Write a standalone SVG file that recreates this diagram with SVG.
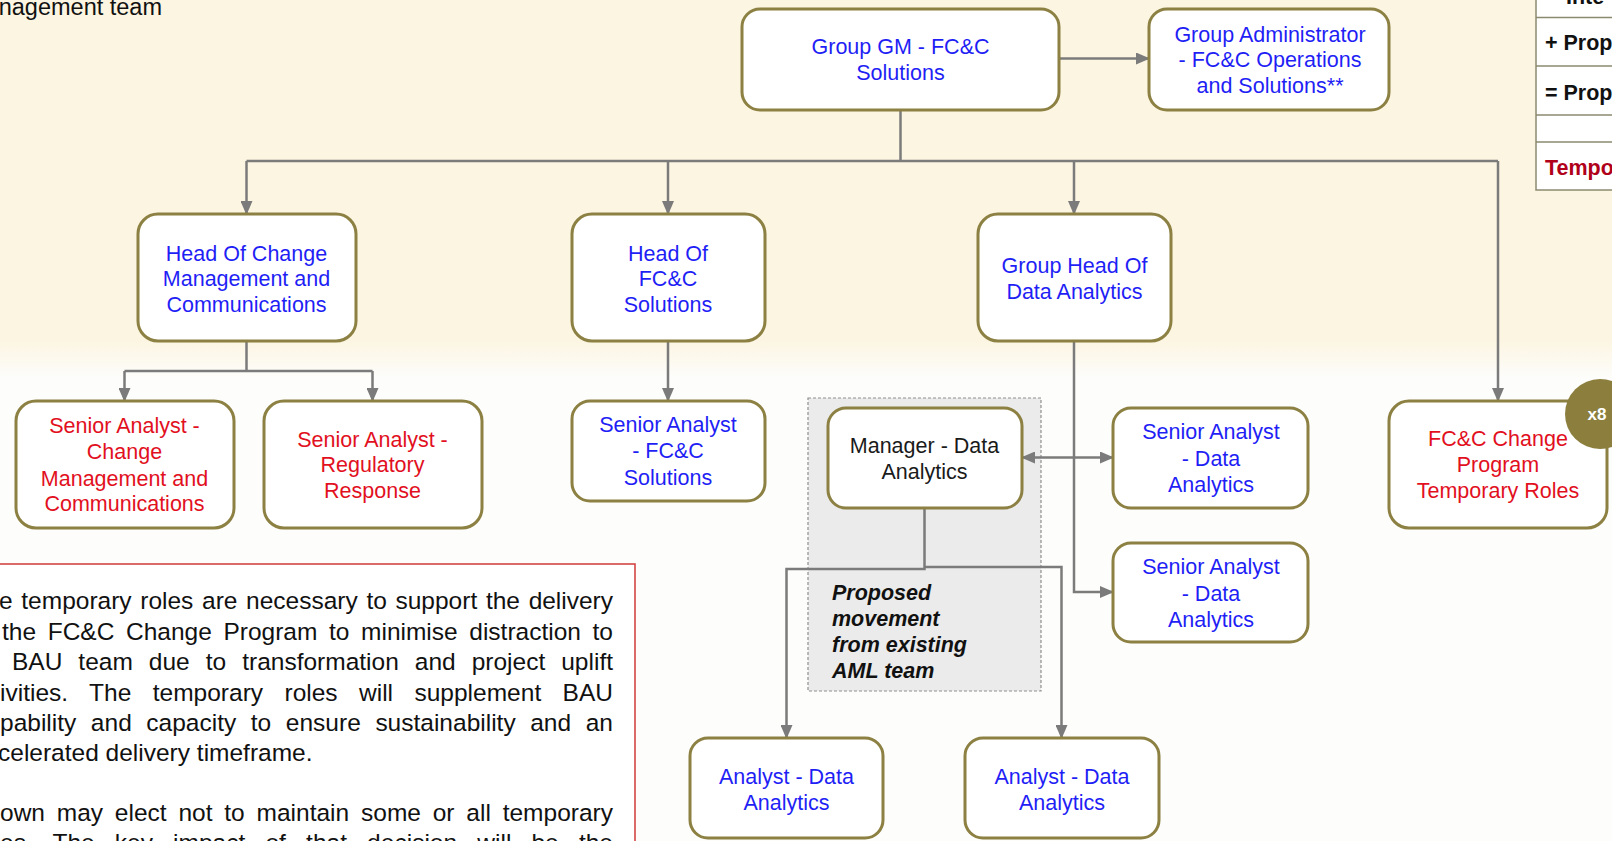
<svg xmlns="http://www.w3.org/2000/svg" width="1612" height="841" viewBox="0 0 1612 841">
<style>
text{font-family:"Liberation Sans",Arial,sans-serif}
.box{fill:#ffffff;stroke:#8c8042;stroke-width:3}
.n{font-size:21.5px;text-anchor:middle}
.blue{fill:#1f1ff5}
.red{fill:#e2101e}
.blk{fill:#1a1a1a}
.con{fill:none;stroke:#7b7b7b;stroke-width:2.5}
.para{font-size:24.5px;fill:#111}
.leg{font-size:21.5px;font-weight:bold;fill:#111}
</style>
<defs>
<linearGradient id="bg" x1="0" y1="0" x2="0" y2="1">
<stop offset="0" stop-color="#fcf5e2"/>
<stop offset="0.9" stop-color="#fcf5e2"/>
<stop offset="1" stop-color="#fdfdfb"/>
</linearGradient>
<marker id="ah" markerUnits="userSpaceOnUse" markerWidth="14" markerHeight="12" refX="13" refY="6" orient="auto-start-reverse">
<path d="M0,0 L14,6 L0,12 Z" fill="#7b7b7b"/>
</marker>
</defs>
<rect x="0" y="0" width="1612" height="841" fill="#fdfdfb"/>
<rect x="0" y="0" width="1612" height="378" fill="url(#bg)"/>

<text x="162" y="15" font-size="23.5" fill="#111" text-anchor="end">nagement team</text>

<g id="legend">
<rect x="1536" y="-5" width="90" height="195" fill="#ffffff" stroke="#8a8a70" stroke-width="1.5"/>
<line x1="1536" y1="17.5" x2="1612" y2="17.5" stroke="#8a8a70" stroke-width="1.5"/>
<line x1="1536" y1="66" x2="1612" y2="66" stroke="#8a8a70" stroke-width="1.5"/>
<line x1="1536" y1="115" x2="1612" y2="115" stroke="#8a8a70" stroke-width="1.5"/>
<line x1="1536" y1="142" x2="1612" y2="142" stroke="#8a8a70" stroke-width="1.5"/>
<text class="leg" x="1566" y="4">Inte</text>
<text class="leg" x="1545" y="50">+ Prop</text>
<text class="leg" x="1545" y="100">= Prop</text>
<text class="leg" x="1545" y="175" style="fill:#b0001a">Tempo</text>
</g>

<g id="aml-area">
<rect x="808" y="398" width="233" height="293" fill="#ebebeb" stroke="#8f8f8f" stroke-width="1.2" stroke-dasharray="3 2"/>
<text x="832" y="600" font-size="21.5" font-weight="bold" font-style="italic" fill="#111">Proposed</text>
<text x="832" y="626" font-size="21.5" font-weight="bold" font-style="italic" fill="#111">movement</text>
<text x="832" y="652" font-size="21.5" font-weight="bold" font-style="italic" fill="#111">from existing</text>
<text x="832" y="677.5" font-size="21.5" font-weight="bold" font-style="italic" fill="#111">AML team</text>
</g>

<g id="connectors">
<line class="con" x1="1059" y1="58.5" x2="1149" y2="58.5" marker-end="url(#ah)"/>
<polyline class="con" points="900.5,110 900.5,161"/>
<line class="con" x1="246.5" y1="161" x2="1498" y2="161"/>
<line class="con" x1="246.5" y1="161" x2="246.5" y2="214" marker-end="url(#ah)"/>
<line class="con" x1="668" y1="161" x2="668" y2="214" marker-end="url(#ah)"/>
<line class="con" x1="1074" y1="161" x2="1074" y2="214" marker-end="url(#ah)"/>
<polyline class="con" points="1498,161 1498,401" marker-end="url(#ah)"/>
<polyline class="con" points="246.5,341 246.5,371"/>
<line class="con" x1="124.5" y1="371" x2="372.5" y2="371"/>
<line class="con" x1="124.5" y1="371" x2="124.5" y2="401" marker-end="url(#ah)"/>
<line class="con" x1="372.5" y1="371" x2="372.5" y2="401" marker-end="url(#ah)"/>
<line class="con" x1="668" y1="341" x2="668" y2="401" marker-end="url(#ah)"/>
<polyline class="con" points="1074,341 1074,592 1113,592" marker-end="url(#ah)"/>
<line class="con" x1="1022" y1="457.5" x2="1113" y2="457.5" marker-start="url(#ah)" marker-end="url(#ah)"/>
<polyline class="con" points="924.5,508 924.5,569 786.5,569 786.5,738" marker-end="url(#ah)"/>
<polyline class="con" points="924.5,567 1061.5,567 1061.5,738" marker-end="url(#ah)"/>
</g>

<g id="group-gm">
<rect class="box" x="742" y="9" width="317" height="101" rx="18"/>
<text class="n blue" x="900.5" y="54">Group GM - FC&amp;C</text>
<text class="n blue" x="900.5" y="79.5">Solutions</text>
</g>

<g id="group-admin">
<rect class="box" x="1149" y="9" width="240" height="101" rx="18"/>
<text class="n blue" x="1270" y="41.5">Group Administrator</text>
<text class="n blue" x="1270" y="67">- FC&amp;C Operations</text>
<text class="n blue" x="1270" y="93">and Solutions**</text>
</g>

<g id="head-change">
<rect class="box" x="138" y="214" width="218" height="127" rx="20"/>
<text class="n blue" x="246.5" y="260.5">Head Of Change</text>
<text class="n blue" x="246.5" y="286">Management and</text>
<text class="n blue" x="246.5" y="312">Communications</text>
</g>

<g id="head-fcc">
<rect class="box" x="572" y="214" width="193" height="127" rx="20"/>
<text class="n blue" x="668" y="260.5">Head Of</text>
<text class="n blue" x="668" y="286">FC&amp;C</text>
<text class="n blue" x="668" y="312">Solutions</text>
</g>

<g id="group-head-da">
<rect class="box" x="978" y="214" width="193" height="127" rx="20"/>
<text class="n blue" x="1074.5" y="272.5">Group Head Of</text>
<text class="n blue" x="1074.5" y="298.5">Data Analytics</text>
</g>

<g id="sa-change">
<rect class="box" x="16" y="401" width="218" height="127" rx="20"/>
<text class="n red" x="124.5" y="433">Senior Analyst -</text>
<text class="n red" x="124.5" y="459">Change</text>
<text class="n red" x="124.5" y="485.5">Management and</text>
<text class="n red" x="124.5" y="511">Communications</text>
</g>

<g id="sa-regulatory">
<rect class="box" x="264" y="401" width="218" height="127" rx="20"/>
<text class="n red" x="372.5" y="446.5">Senior Analyst -</text>
<text class="n red" x="372.5" y="472">Regulatory</text>
<text class="n red" x="372.5" y="498">Response</text>
</g>

<g id="sa-fcc">
<rect class="box" x="572" y="401" width="193" height="100" rx="18"/>
<text class="n blue" x="668" y="432">Senior Analyst</text>
<text class="n blue" x="668" y="458">- FC&amp;C</text>
<text class="n blue" x="668" y="484.5">Solutions</text>
</g>

<g id="manager-da">
<rect class="box" x="828" y="408" width="194" height="100" rx="18"/>
<text class="n blk" x="924.5" y="452.5">Manager - Data</text>
<text class="n blk" x="924.5" y="478.5">Analytics</text>
</g>

<g id="sa-da-1">
<rect class="box" x="1113" y="408" width="195" height="100" rx="18"/>
<text class="n blue" x="1211" y="439">Senior Analyst</text>
<text class="n blue" x="1211" y="466">- Data</text>
<text class="n blue" x="1211" y="491.5">Analytics</text>
</g>

<g id="sa-da-2">
<rect class="box" x="1113" y="543" width="195" height="99" rx="18"/>
<text class="n blue" x="1211" y="574">Senior Analyst</text>
<text class="n blue" x="1211" y="600.5">- Data</text>
<text class="n blue" x="1211" y="626.5">Analytics</text>
</g>

<g id="analyst-da-1">
<rect class="box" x="690" y="738" width="193" height="100" rx="18"/>
<text class="n blue" x="786.5" y="783.5">Analyst - Data</text>
<text class="n blue" x="786.5" y="809.5">Analytics</text>
</g>

<g id="analyst-da-2">
<rect class="box" x="965" y="738" width="194" height="100" rx="18"/>
<text class="n blue" x="1062" y="783.5">Analyst - Data</text>
<text class="n blue" x="1062" y="809.5">Analytics</text>
</g>

<g id="fcc-change-program">
<rect class="box" x="1389" y="401" width="218" height="127" rx="20"/>
<text class="n red" x="1498" y="445.5">FC&amp;C Change</text>
<text class="n red" x="1498" y="472">Program</text>
<text class="n red" x="1498" y="498">Temporary Roles</text>
<circle cx="1600" cy="414" r="35" fill="#8c7f3e"/>
<text x="1597" y="420" font-size="17" font-weight="bold" fill="#ffffff" text-anchor="middle">x8</text>
</g>

<g id="note">
<rect x="-5" y="564" width="640" height="290" fill="#ffffff" stroke="#cf3a3a" stroke-width="1.5"/>
<text class="para" x="-1" y="609" textLength="614" lengthAdjust="spacing" word-spacing="1.9">e temporary roles are necessary to support the delivery</text>
<text class="para" x="2" y="639.5" textLength="611" lengthAdjust="spacing" word-spacing="4.8">the FC&amp;C Change Program to minimise distraction to</text>
<text class="para" x="12" y="670" textLength="601" lengthAdjust="spacing" word-spacing="9.2">BAU team due to transformation and project uplift</text>
<text class="para" x="0" y="700.5" textLength="613" lengthAdjust="spacing" word-spacing="14.6">ivities. The temporary roles will supplement BAU</text>
<text class="para" x="0" y="731" textLength="613" lengthAdjust="spacing" word-spacing="7.8">pability and capacity to ensure sustainability and an</text>
<text class="para" x="-2" y="761">celerated delivery timeframe.</text>
<text class="para" x="0" y="821" textLength="613" lengthAdjust="spacing" word-spacing="5">own may elect not to maintain some or all temporary</text>
<text class="para" x="0" y="851" textLength="613" lengthAdjust="spacing" word-spacing="13.3">es. The key impact of that decision will be the</text>
</g>
</svg>
